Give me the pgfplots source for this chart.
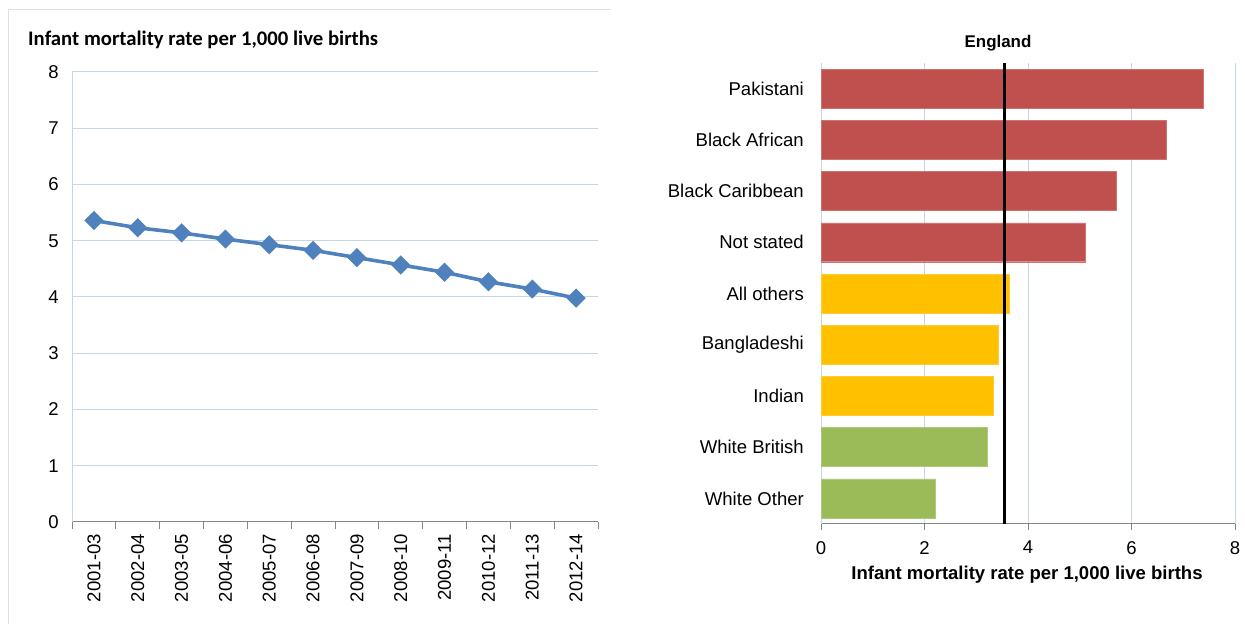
\documentclass[border=0pt]{standalone}
\usepackage{fontspec}
\setmainfont{Liberation Sans}
\newfontfamily\calibri{Carlito}
\usepackage{pgfplots}
\usepackage{pgfplotstable}
\pgfplotsset{compat=1.18}
\definecolor{gridblue}{HTML}{C5D5EA}
\definecolor{axisgray}{HTML}{868686}
\definecolor{lineblue}{HTML}{4F81BD}
\definecolor{barred}{HTML}{C0504D}
\definecolor{baryellow}{HTML}{FFC000}
\definecolor{bargreen}{HTML}{9BBB59}

\pgfplotstableread{
x y e
0 5.36 0.15
1 5.23 0.15
2 5.14 0.15
3 5.03 0.15
4 4.93 0.15
5 4.83 0.15
6 4.70 0.15
7 4.57 0.15
8 4.44 0.15
9 4.27 0.15
10 4.14 0.15
11 3.98 0.15
}\trendtable

\begin{document}
\begin{tikzpicture}[x=1bp,y=1bp]
\useasboundingbox (0,0) rectangle (1245,624);
\draw[black!12, line width=1bp] (8,0) -- (8,614) -- (611,614);
\node[anchor=west, font=\calibri\bfseries\fontsize{20.8}{24}\selectfont, inner sep=0pt] at (28,584) {Infant mortality rate per 1,000 live births};

\begin{axis}[
  at={(72bp,102bp)}, anchor=south west,
  scale only axis, width=526bp, height=450bp,
  xmin=-0.5, xmax=11.5, ymin=0, ymax=8,
  axis lines*=left,
  x axis line style={axisgray, line width=1bp},
  y axis line style={gridblue, line width=1bp},
  xtick={0,...,11},
  xticklabels={2001-03,2002-04,2003-05,2004-06,2005-07,2006-08,2007-09,2008-10,2009-11,2010-12,2011-13,2012-14},
  minor xtick={-0.5,0.5,...,11.5},
  ytick={0,...,8},
  ymajorgrids, grid style={gridblue, line width=1bp},
  major tick length=0pt, minor tick length=7bp, tick align=outside,
  minor tick style={axisgray, line width=1bp},
  /pgf/number format/assume math mode=true,
  ticklabel style={font=\fontsize{18.6}{21}\selectfont, black},
  xticklabel style={rotate=90, anchor=east, inner sep=0pt},
  xticklabel shift=12bp,
  yticklabel style={inner sep=0pt},
  yticklabel shift=13bp,
  clip=false,
]
\addplot[lineblue, line width=3.6bp, mark=square*, mark size=5bp,
  mark options={rotate=45, solid, fill=lineblue},
  error bars/.cd, y dir=both, y explicit,
  error bar style={lineblue, line width=1.2bp}, error mark=none]
  table[x=x, y=y, y error=e] {\trendtable};
\end{axis}

\node[font=\bfseries\fontsize{17}{20}\selectfont, inner sep=0pt] at (998,581) {England};

\begin{axis}[
  at={(821bp,100bp)}, anchor=south west,
  scale only axis, width=414bp, height=461bp,
  xmin=0, xmax=8, ymin=-0.5, ymax=8.5,
  axis lines*=left,
  x axis line style={axisgray, line width=1bp},
  y axis line style={gridblue, line width=1bp},
  xtick={0,2,4,6,8},
  ytick={0,...,8},
  yticklabels={White Other,White British,Indian,Bangladeshi,All others,Not stated,Black Caribbean,Black African,Pakistani},
  xmajorgrids, grid style={gridblue, line width=1bp},
  tick align=outside, major tick length=6bp,
  xtick style={axisgray, line width=1bp},
  ytick style={draw=none},
  /pgf/number format/assume math mode=true,
  ticklabel style={font=\fontsize{18.6}{21}\selectfont, black},
  xticklabel style={inner sep=0pt},
  xticklabel shift=11bp,
  yticklabel style={inner sep=0pt},
  yticklabel shift=11bp,
]
\addplot[xbar, bar width=0.76, bar shift=0pt, fill=barred, draw=barred!80!white]
  coordinates {(7.38,8) (6.67,7) (5.70,6) (5.11,5)};
\addplot[xbar, bar width=0.76, bar shift=0pt, fill=baryellow, draw=baryellow!80!white]
  coordinates {(3.63,4) (3.43,3) (3.32,2)};
\addplot[xbar, bar width=0.76, bar shift=0pt, fill=bargreen, draw=bargreen!80!white]
  coordinates {(3.22,1) (2.20,0)};
\addplot[black, line width=3.3bp, sharp plot, mark=none]
  coordinates {(3.55,-0.5) (3.55,8.5)};
\end{axis}

\node[font=\bfseries\fontsize{18.6}{21}\selectfont, inner sep=0pt] at (1027,49) {Infant mortality rate per 1,000 live births};
\end{tikzpicture}
\end{document}
